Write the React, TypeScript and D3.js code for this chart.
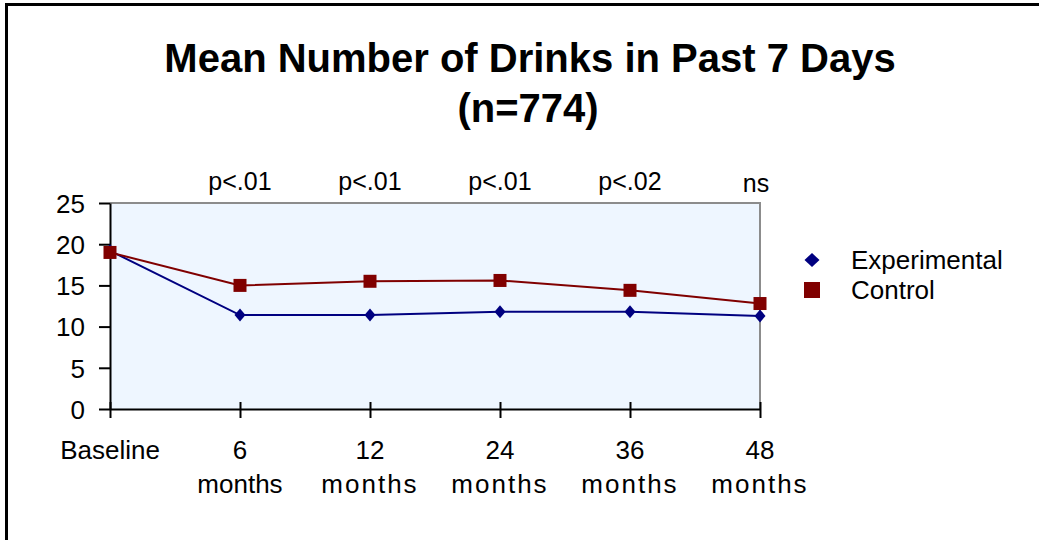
import React, { useEffect, useRef } from 'react';
import * as d3 from 'd3';

const categories = ['Baseline', '6 months', '12 months', '24 months', '36 months', '48 months'];
const experimental = [19.2, 11.4, 11.4, 11.8, 11.8, 11.3];
const control = [19.0, 15.0, 15.5, 15.6, 14.4, 12.8];
const pLabels = ['', 'p<.01', 'p<.01', 'p<.01', 'p<.02', 'ns'];
const yTicks = [0, 5, 10, 15, 20, 25];

const FONT = '"Liberation Sans", Arial, sans-serif';
const NAVY = '#000080';
const MAROON = '#800000';

const App: React.FC = () => {
  const svgRef = useRef<SVGSVGElement | null>(null);

  useEffect(() => {
    if (!svgRef.current) return;
    const svg = d3.select(svgRef.current);
    svg.selectAll('*').remove();

    const width = 1039;
    const height = 540;
    const plot = { left: 110, right: 760, top: 203, bottom: 409 };

    svg.attr('width', width).attr('height', height);

    svg.append('rect').attr('width', width).attr('height', height).attr('fill', '#fff');

    // outer frame (runs off right / bottom edge)
    svg.append('rect')
      .attr('x', 6.5).attr('y', 4.5)
      .attr('width', width + 20).attr('height', height + 20)
      .attr('fill', 'none').attr('stroke', '#000').attr('stroke-width', 3);

    const x = d3.scalePoint<string>()
      .domain(categories)
      .range([plot.left, plot.right]);

    const y = d3.scaleLinear()
      .domain([0, 25])
      .range([plot.bottom, plot.top]);

    // titles
    svg.append('text')
      .attr('x', 530).attr('y', 72)
      .attr('text-anchor', 'middle')
      .attr('font-family', FONT).attr('font-weight', 'bold').attr('font-size', 40)
      .text('Mean Number of Drinks in Past 7 Days');
    svg.append('text')
      .attr('x', 528).attr('y', 122)
      .attr('text-anchor', 'middle')
      .attr('font-family', FONT).attr('font-weight', 'bold').attr('font-size', 40)
      .text('(n=774)');

    // plot area
    svg.append('rect')
      .attr('x', plot.left).attr('y', plot.top)
      .attr('width', plot.right - plot.left).attr('height', plot.bottom - plot.top)
      .attr('fill', '#eef6ff');
    svg.append('path')
      .attr('d', `M${plot.left},${plot.top}H${plot.right}V${plot.bottom}`)
      .attr('fill', 'none').attr('stroke', '#8c8c8c').attr('stroke-width', 2);

    // y axis
    const yAxis = svg.append('g')
      .attr('transform', `translate(${plot.left},0)`)
      .call(d3.axisLeft(y).tickValues(yTicks).tickSizeInner(11).tickSizeOuter(0).tickPadding(14));
    yAxis.select('.domain').attr('stroke', '#000').attr('stroke-width', 2);
    yAxis.selectAll('.tick line').attr('stroke', '#000').attr('stroke-width', 2).attr('x2', -11);
    yAxis.selectAll('.tick text')
      .attr('font-family', FONT).attr('font-size', 26).attr('fill', '#000')
      .attr('dy', '0.36em');

    // x axis
    const xAxis = svg.append('g')
      .attr('transform', `translate(0,${plot.bottom})`)
      .call(d3.axisBottom(x).tickSizeInner(0).tickSizeOuter(0).tickFormat(() => ''));
    xAxis.select('.domain').attr('stroke', '#000').attr('stroke-width', 2);
    xAxis.selectAll('.tick line')
      .attr('stroke', '#000').attr('stroke-width', 2)
      .attr('y1', -7).attr('y2', 9);
    xAxis.selectAll('.tick text').remove();

    const labels = svg.append('g')
      .attr('font-family', FONT).attr('font-size', 26).attr('fill', '#000')
      .attr('text-anchor', 'middle');
    categories.forEach((c, ci) => {
      const parts = c.split(' ');
      const t = labels.append('text').attr('x', x(c) as number).attr('y', 459);
      parts.forEach((p, i) => {
        const s = t.append('tspan')
          .attr('x', x(c) as number)
          .attr('dy', i === 0 ? 0 : 34)
          .text(p);
        if (i === 1 && ci > 1) s.attr('letter-spacing', 2);
      });
    });

    // significance labels
    svg.append('g')
      .attr('font-family', FONT).attr('font-size', 25).attr('fill', '#000')
      .attr('text-anchor', 'middle')
      .selectAll('text')
      .data(categories.map((c, i) => ({ c, p: pLabels[i] })).filter(d => d.p))
      .enter().append('text')
      .attr('x', d => (x(d.c) as number) - (d.p === 'ns' ? 4 : 0))
      .attr('y', d => (d.p === 'ns' ? 192 : 190))
      .text(d => d.p);

    // lines
    const line = d3.line<number>()
      .x((_, i) => x(categories[i]) as number)
      .y(d => y(d));

    svg.append('path')
      .datum(experimental)
      .attr('fill', 'none').attr('stroke', NAVY).attr('stroke-width', 2)
      .attr('d', line);
    svg.append('path')
      .datum(control)
      .attr('fill', 'none').attr('stroke', MAROON).attr('stroke-width', 2)
      .attr('d', line);

    const diamond = (cx: number, cy: number, w: number, h: number) =>
      `M${cx},${cy - h / 2}L${cx + w / 2},${cy}L${cx},${cy + h / 2}L${cx - w / 2},${cy}Z`;

    svg.selectAll('.exp')
      .data(experimental)
      .enter().append('path')
      .attr('class', 'exp')
      .attr('d', (d, i) => diamond(x(categories[i]) as number, y(d), 11, 13))
      .attr('fill', NAVY);

    svg.selectAll('.ctl')
      .data(control)
      .enter().append('rect')
      .attr('class', 'ctl')
      .attr('x', (_, i) => (x(categories[i]) as number) - 6.5)
      .attr('y', d => y(d) - 6.5)
      .attr('width', 13).attr('height', 13)
      .attr('fill', MAROON);

    // legend
    const legend = svg.append('g').attr('font-family', FONT).attr('font-size', 26).attr('fill', '#000');
    legend.append('path').attr('d', diamond(812, 260, 15, 14)).attr('fill', NAVY);
    legend.append('text').attr('x', 851).attr('y', 269).text('Experimental');
    legend.append('rect').attr('x', 804).attr('y', 282).attr('width', 16).attr('height', 16).attr('fill', MAROON);
    legend.append('text').attr('x', 851).attr('y', 299).text('Control');
  }, []);

  return (
    <svg
      ref={svgRef}
      style={{ position: 'absolute', left: 0, top: 0, display: 'block' }}
    />
  );
};

export default App;
